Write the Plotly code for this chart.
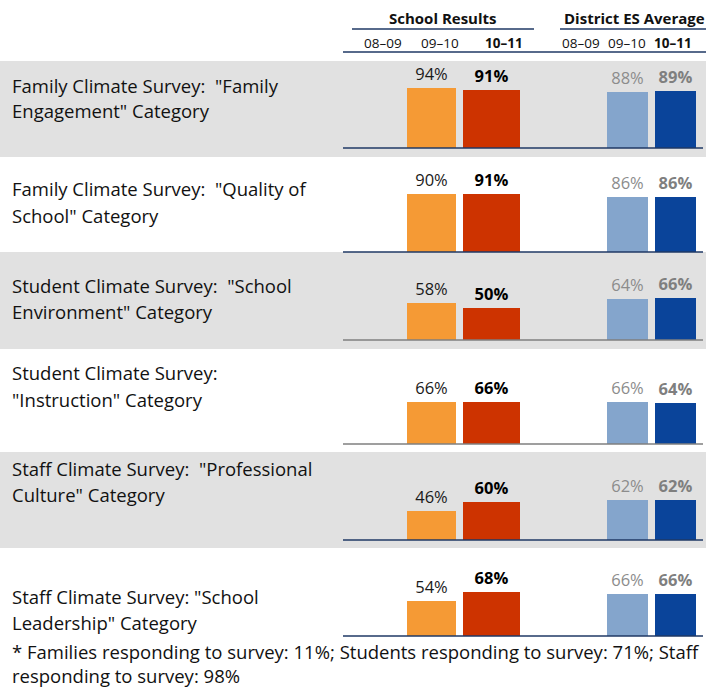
import plotly.graph_objects as go

# ---------------- data ----------------
category_lines = [
    ['Family Climate Survey:  "Family', 'Engagement" Category'],
    ['Family Climate Survey:  "Quality of', 'School" Category'],
    ['Student Climate Survey:  "School', 'Environment" Category'],
    ['Student Climate Survey:', '"Instruction" Category'],
    ['Staff Climate Survey:  "Professional', 'Culture" Category'],
    ['Staff Climate Survey: "School', 'Leadership" Category'],
]
school_0910 = [94, 90, 58, 66, 46, 54]
school_1011 = [91, 91, 50, 66, 60, 68]
district_0910 = [88, 86, 64, 66, 62, 66]
district_1011 = [89, 86, 66, 64, 62, 66]
group_titles = ["School Results", "District ES Average"]
year_labels = ["08\u201309", "09\u201310", "10\u201311"]
footnote_lines = [
    "* Families responding to survey: 11%; Students responding to survey: 71%; Staff",
    "responding to survey: 98%",
]

# ---------------- layout / style ----------------
W, H = 706, 688
FONT = "'Open Sans', 'Liberation Sans', sans-serif"
baselines = [148, 252, 340, 444, 540, 636]
row_px = 64            # pixel height of 0..100 %
bands = [(61, 157), (252, 349), (452, 548)]
label_y = [(85, 110), (189, 215), (285, 311), (372, 399), (468, 494), (596, 622)]
foot_y = [651, 675]
line_colors = ["#1F3864", "#1F3864", "#7F7F7F", "#7F7F7F", "#1F3864", "#1F3864"]
NAVY = "#1F3864"
LABEL_SIZE = 18.5

series = [
    dict(vals=school_0910, x=431.5, w=49, color="#F59A35", tcolor="#1a1a1a", bold=False),
    dict(vals=school_1011, x=491.5, w=57, color="#CD3300", tcolor="#000000", bold=True),
    dict(vals=district_0910, x=627.5, w=41, color="#84A5CC", tcolor="#8C8C8C", bold=False),
    dict(vals=district_1011, x=675.5, w=41, color="#0A449A", tcolor="#7F7F7F", bold=True),
]


def py(p):
    return 1 - p / H


fig = go.Figure()
layout_axes = {}
for r, b in enumerate(baselines):
    ax = "y" if r == 0 else f"y{r + 1}"
    for s in series:
        v = s["vals"][r]
        txt = f"{v}%"
        if s["bold"]:
            txt = f"<b>{txt}</b>"
        fig.add_trace(go.Bar(
            x=[s["x"]], y=[v], width=[s["w"]],
            xaxis="x", yaxis=ax,
            marker=dict(color=s["color"], line=dict(width=0)),
            text=[txt], textposition="outside", constraintext="none",
            textfont=dict(family=FONT, size=16.5, color=s["tcolor"]),
            cliponaxis=False, showlegend=False, hoverinfo="skip",
        ))
    key = "yaxis" if r == 0 else f"yaxis{r + 1}"
    layout_axes[key] = dict(domain=[py(b), py(b - row_px)], range=[0, 100],
                            visible=False, fixedrange=True, anchor="x")

shapes = []
for (t, btm) in bands:
    shapes.append(dict(type="rect", xref="paper", yref="paper", x0=0, x1=1,
                       y0=py(btm), y1=py(t), fillcolor="#E1E1E1", line=dict(width=0),
                       layer="below"))
for r, b in enumerate(baselines):
    shapes.append(dict(type="line", xref="paper", yref="paper",
                       x0=343 / W, x1=703 / W, y0=py(b), y1=py(b),
                       line=dict(color=line_colors[r], width=1.5)))
# header rules
shapes.append(dict(type="line", xref="paper", yref="paper", x0=352 / W, x1=534 / W,
                   y0=py(29), y1=py(29), line=dict(color=NAVY, width=1.5)))
shapes.append(dict(type="line", xref="paper", yref="paper", x0=560 / W, x1=1,
                   y0=py(29), y1=py(29), line=dict(color=NAVY, width=1.5)))
shapes.append(dict(type="line", xref="paper", yref="paper", x0=343 / W, x1=1,
                   y0=py(52), y1=py(52), line=dict(color=NAVY, width=1.5)))

ann = []
for r, lines in enumerate(category_lines):
    for i, ln in enumerate(lines):
        ann.append(dict(text=ln, xref="paper", yref="paper", x=10 / W, y=py(label_y[r][i]),
                        xanchor="left", yanchor="middle", showarrow=False,
                        font=dict(family=FONT, size=LABEL_SIZE, color="#111111")))
for i, ln in enumerate(footnote_lines):
    ann.append(dict(text=ln, xref="paper", yref="paper", x=10 / W, y=py(foot_y[i]),
                    xanchor="left", yanchor="middle", showarrow=False,
                    font=dict(family=FONT, size=LABEL_SIZE, color="#111111")))
# group titles
ann.append(dict(text=f"<b>{group_titles[0]}</b>", xref="paper", yref="paper", x=443 / W,
                y=py(18), xanchor="center", yanchor="middle", showarrow=False,
                font=dict(family=FONT, size=15, color="#111111")))
ann.append(dict(text=f"<b>{group_titles[1]}</b>", xref="paper", yref="paper", x=562 / W,
                y=py(18), xanchor="left", yanchor="middle", showarrow=False,
                font=dict(family=FONT, size=15, color="#111111")))
year_x = [[383, 440, 504], [581, 627, 673]]
for g in range(2):
    for i, yl in enumerate(year_labels):
        t = f"<b>{yl}</b>" if i == 2 else yl
        ann.append(dict(text=t, xref="paper", yref="paper", x=year_x[g][i] / W, y=py(43),
                        xanchor="center", yanchor="middle", showarrow=False,
                        font=dict(family=FONT, size=13.5, color="#111111")))

fig.update_layout(
    width=W, height=H, margin=dict(l=0, r=0, t=0, b=0),
    paper_bgcolor="white", plot_bgcolor="rgba(0,0,0,0)",
    xaxis=dict(domain=[0, 1], range=[0, W], visible=False, fixedrange=True),
    shapes=shapes, annotations=ann, barmode="overlay", bargap=0,
    **layout_axes,
)
fig.write_html(
    "out.html",
    config={"displayModeBar": False},
    post_script="document.body.style.margin='0';document.body.style.overflow='hidden';",
)
